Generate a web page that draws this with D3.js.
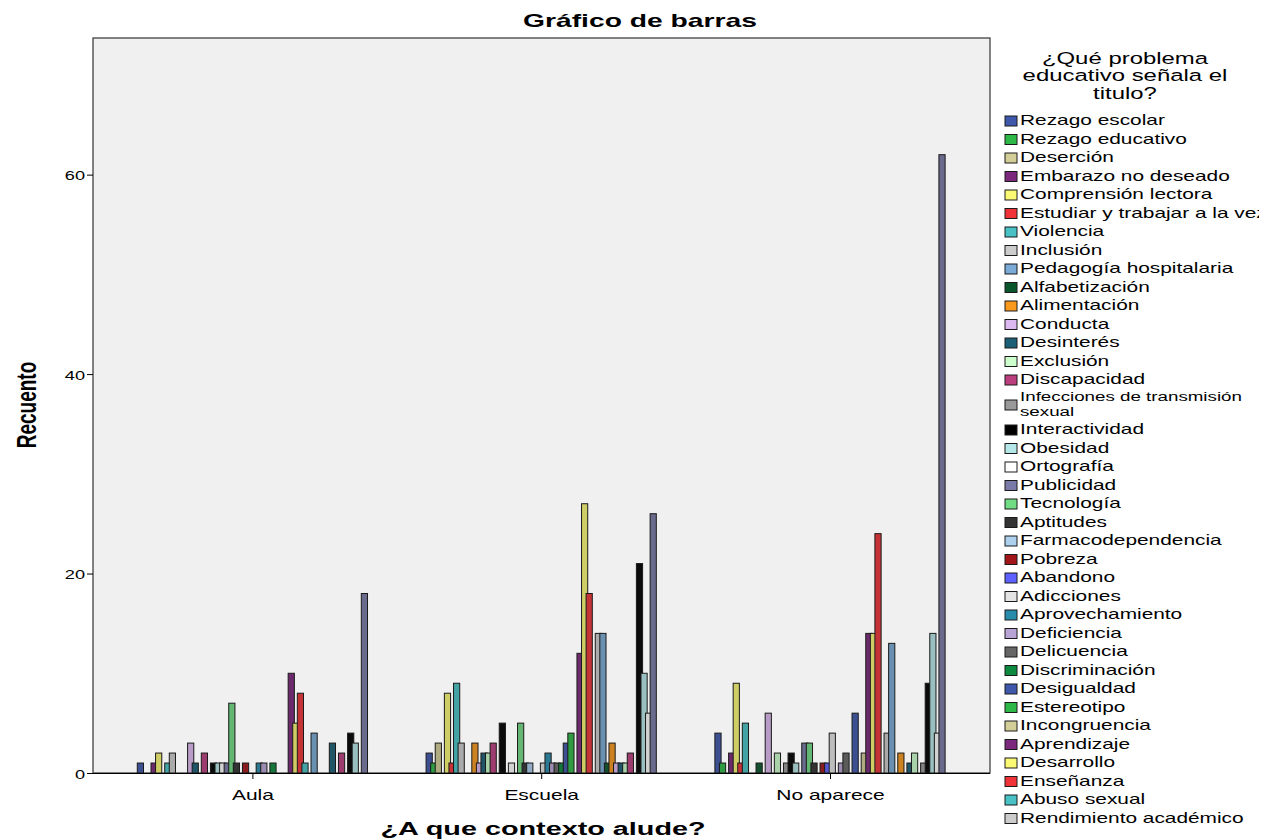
<!DOCTYPE html>
<html>
<head>
<meta charset="utf-8">
<script src="https://cdn.jsdelivr.net/npm/d3@7"></script>
<style>
  body { margin: 0; background: #fff; }
  text { font-family: "Liberation Sans", Arial, sans-serif; fill: #000; }
</style>
</head>
<body>
<div id="chart"></div>
<script>
const contexts = ["Aula", "Escuela", "No aparece"];

// legend order; SPSS cut the legend after "Rendimiento académico"
const categories = [
  "Rezago escolar", "Rezago educativo", "Deserción", "Embarazo no deseado",
  "Comprensión lectora", "Estudiar y trabajar a la vez", "Violencia", "Inclusión",
  "Pedagogía hospitalaria", "Alfabetización", "Alimentación", "Conducta",
  "Desinterés", "Exclusión", "Discapacidad", "Infecciones de transmisión sexual",
  "Interactividad", "Obesidad", "Ortografía", "Publicidad", "Tecnología",
  "Aptitudes", "Farmacodependencia", "Pobreza", "Abandono", "Adicciones",
  "Aprovechamiento", "Deficiencia", "Delicuencia", "Discriminación",
  "Desigualdad", "Estereotipo", "Incongruencia", "Aprendizaje", "Desarrollo",
  "Enseñanza", "Abuso sexual", "Rendimiento académico"
];
const slotCount = 50; // bars per cluster (12 more than the legend shows)

const aula = [1,0,0,1,2,0,1,2,0,0, 0,3,1,0,2,0,1,1,1,1, 7,1,0,1,0,0,1,1,0,1,
              0,0,0,10,5,8,1,0,4,0, 0,0,3,0,2,0,4,3,0,18];
const escuela = [2,1,3,0,8,1,9,3,0,0, 3,1,2,2,3,0,5,0,1,0, 5,1,1,0,0,1,2,1,1,1,
                 3,4,0,12,27,18,0,14,14,1, 3,1,1,1,2,0,21,10,6,26];
const noAparece = [4,1,0,2,9,1,5,0,0,1, 0,6,0,2,0,1,2,1,0,3, 3,1,0,1,1,4,0,1,2,0,
                   6,0,2,14,14,24,0,4,13,0, 2,0,1,2,0,1,9,14,4,62];
const series = [aula, escuela, noAparece];

const yTicks = [0, 20, 40, 60];

// SPSS default fill cycle (30 colours, then it repeats)
const palette = ["#3e58ac","#2eb848","#d3ce97","#7c287d","#fbf873","#ef3338","#48c2c5",
  "#cccccc","#7aaad5","#0a562c","#f8981d","#ddb9f1","#1a5f76","#ccffcc","#bb3f7f",
  "#999999","#000000","#b6e7e8","#ffffff","#797aa7","#70dc84","#333333","#acd0ee",
  "#a21619","#5d61ff","#e4e4e4","#278bac","#b9a5d5","#666666","#0d8a3f"];

const width = 1272, height = 840;
const plot = { left: 93, top: 38, right: 990, bottom: 773 };
const sx = 1.4; // the picture is stretched horizontally

const svg = d3.select("#chart").append("svg")
  .attr("width", width).attr("height", height);

function label(x, y, str, size, opts = {}) {
  return svg.append("text")
    .attr("transform", `translate(${x},${y}) scale(${opts.sx || sx},1)` + (opts.rotate ? ` rotate(${opts.rotate})` : ""))
    .attr("text-anchor", opts.anchor || "start")
    .attr("font-size", size)
    .attr("font-weight", opts.bold ? "bold" : null)
    .text(str);
}

svg.append("rect")
  .attr("x", plot.left).attr("y", plot.top)
  .attr("width", plot.right - plot.left).attr("height", plot.bottom - plot.top)
  .attr("fill", "#f0f0f0").attr("stroke", "#333").attr("stroke-width", 1.2);

const x0 = d3.scalePoint().domain(contexts).range([252.4, 830]);
const x1 = d3.scaleBand().domain(d3.range(slotCount)).range([-114.3, 114.3]);
const y = d3.scaleLinear().domain([0, 73.7]).range([plot.bottom, plot.top]);
const barW = 6.2;

const bars = [];
contexts.forEach((c, g) => {
  series[g].forEach((v, i) => { if (v > 0) bars.push({ c, i, v }); });
});

// narrow bars read duller than the legend swatches
const barFill = i => d3.interpolateRgb(palette[i % palette.length], "#333")(0.22);

svg.append("g").selectAll("rect").data(bars).enter().append("rect")
  .attr("x", d => x0(d.c) + x1(d.i) + x1.bandwidth() / 2 - barW / 2)
  .attr("y", d => y(d.v))
  .attr("width", barW)
  .attr("height", d => y(0) - y(d.v))
  .attr("fill", d => barFill(d.i))
  .attr("stroke", "#1a1a1a").attr("stroke-width", 1);

// y axis
const yAxis = svg.append("g")
  .attr("transform", `translate(${plot.left},0)`)
  .call(d3.axisLeft(y).tickValues(yTicks).tickSize(6).tickFormat(d3.format("d")));
yAxis.select(".domain").remove();
yAxis.selectAll(".tick line").attr("stroke", "#000");
yAxis.selectAll(".tick text")
  .attr("x", null).attr("dy", null)
  .attr("transform", `translate(-8,5) scale(${sx},1)`)
  .attr("font-size", 13).attr("font-family", null);

// x axis
const xAxis = svg.append("g")
  .attr("transform", `translate(0,${plot.bottom})`)
  .call(d3.axisBottom(x0).tickSize(6));
xAxis.select(".domain").attr("stroke", "#000").attr("d", `M${plot.left},0.5H${plot.right}`);
xAxis.selectAll(".tick line").attr("stroke", "#000");
xAxis.selectAll(".tick text")
  .attr("y", null).attr("dy", null)
  .attr("transform", `translate(0,27) scale(1.5,1)`)
  .attr("font-size", 14).attr("font-family", null);

// titles
label(640, 27, "Gráfico de barras", 18, { anchor: "middle", bold: true, sx: 1.57 });
label(543, 835, "¿A que contexto alude?", 18, { anchor: "middle", bold: true, sx: 1.6 });
label(36, 405, "Recuento", 19, { anchor: "middle", bold: true, sx: 1.45, rotate: -90 });

// legend
const lx = 1005;
const lt = [["¿Qué problema", 64], ["educativo señala el", 81], ["titulo?", 99]];
lt.forEach(([t, ty]) => label(1125, ty, t, 16.5, { anchor: "middle", sx: 1.45 }));

svg.append("clipPath").attr("id", "legclip")
  .append("rect").attr("x", 0).attr("y", 0).attr("width", 1259).attr("height", height);
const leg = svg.append("g").attr("clip-path", "url(#legclip)");

categories.forEach((name, i) => {
  const cy = 121 + i * 18.5 + (i > 15 ? 13 : 0);
  const cut = name.lastIndexOf(" ");
  const lines = name.length > 30 ? [name.slice(0, cut), name.slice(cut + 1)] : [name];
  const sy = lines.length > 1 ? cy + 6.5 : cy;
  leg.append("rect")
    .attr("x", lx).attr("y", sy - 5).attr("width", 12).attr("height", 10)
    .attr("fill", palette[i % palette.length])
    .attr("stroke", "#1a1a1a").attr("stroke-width", 1);
  lines.forEach((ln, k) => {
    leg.append("text")
      .attr("transform", `translate(${lx + 15},${cy + (lines.length > 1 ? 2 : 4) + k * 15}) scale(1.39,1)`)
      .attr("font-size", lines.length > 1 ? 13.5 : 15)
      .text(ln);
  });
});
</script>
</body>
</html>
